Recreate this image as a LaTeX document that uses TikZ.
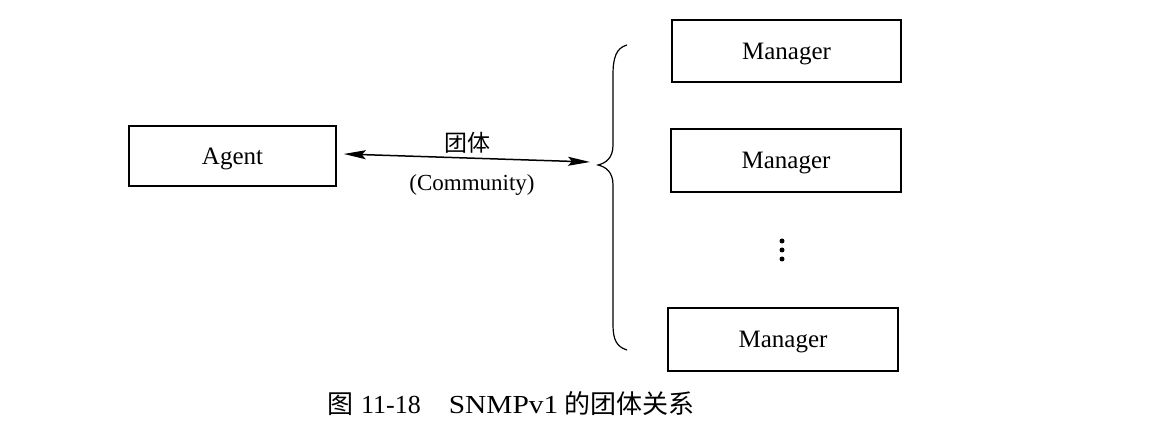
\documentclass[tikz,border=0pt]{standalone}
\usepackage{fontspec}
\setmainfont{Liberation Serif}
\newfontfamily\cjk{Noto Sans CJK SC}
\usetikzlibrary{arrows.meta}
\tikzset{myhead/.tip={Stealth[length=22pt,width=9pt,inset=4pt]}}
\begin{document}
\begin{tikzpicture}[x=1pt,y=-1pt,
  box/.style={draw, line width=1.6pt, minimum width=#1, inner sep=0pt, text depth=0pt},
  lbl/.style={font=\fontsize{25}{29}\selectfont},
  zh/.style={font=\cjk\fontsize{23}{27}\selectfont},
  dot/.style={circle, fill, inner sep=0pt, minimum size=5pt}]
\useasboundingbox (0,0) rectangle (1168,435);
\node[box=207pt, minimum height=60pt, lbl] (agent) at (232.5,156) {Agent};
\node[box=229pt, minimum height=62pt, lbl] (m1) at (786.5,51) {Manager};
\node[box=230pt, minimum height=63pt, lbl] (m2) at (786,160.5) {Manager};
\node[box=230pt, minimum height=63pt, lbl] (m3) at (783,339.5) {Manager};
\node[dot] (d1) at (782,241) {};
\node[dot] (d2) at (782,250) {};
\node[dot] (d3) at (782,259) {};
\coordinate (btip) at (598,165);
\coordinate (aend) at (590,162);
\draw[line width=1.5pt, myhead-myhead]
  ([xshift=7pt,yshift=2pt]agent.east) -- (aend);
\node[zh] (t1) at (467,143) {团体};
\node[font=\fontsize{23}{27}\selectfont] (t2) at (472,185) {(Community)};
\draw[line width=1.2pt] (627,45) .. controls (616,48) and (613,58) .. (613,75)
  -- (613,145) .. controls (613,158) and (606,163) .. (btip)
  .. controls (606,167) and (613,172) .. (613,185)
  -- (613,325) .. controls (613,340) and (617,347) .. (627,350);
\node[anchor=west, inner sep=0pt] (cap) at (327,404) {\cjk\fontsize{26}{30}\selectfont 图\hspace{8pt}{\rmfamily\fontsize{26}{30}\selectfont 11-18\hspace{28pt}\scalebox{1.13}[1]{SNMPv1}}\hspace{6pt}的团体关系};
\end{tikzpicture}
\end{document}
